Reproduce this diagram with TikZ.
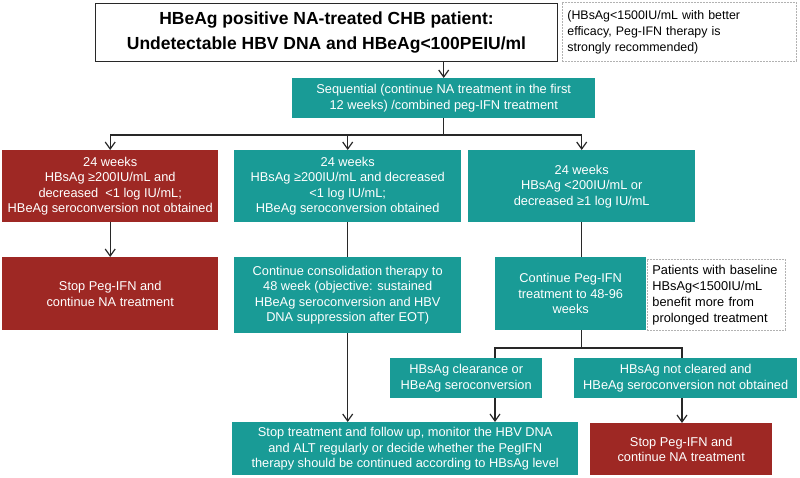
\documentclass[tikz,border=0pt]{standalone}
\usepackage{fontspec}
\setmainfont{Liberation Sans}
\usetikzlibrary{arrows.meta}
\definecolor{tealbg}{RGB}{25,155,150}
\definecolor{redbg}{RGB}{158,40,36}
\definecolor{lncol}{RGB}{40,40,40}
\begin{document}
\begin{tikzpicture}[x=1pt,y=-1pt,
  box/.style={rectangle, inner sep=0pt, align=center, anchor=north west,
    font=\fontsize{12.8}{15.5}\selectfont, text=white},
  tealbox/.style={box, fill=tealbg},
  redbox/.style={box, fill=redbg},
  notebox/.style={rectangle, draw=gray!60, dash pattern=on 2pt off 1pt, line width=0.8pt,
    inner xsep=5pt, inner ysep=0pt, anchor=north west, align=left,
    font=\fontsize{12.8}{16}\selectfont, text=black},
  headbox/.style={rectangle, draw=lncol, line width=1pt, fill=white, inner sep=0pt,
    anchor=north west, align=center, font=\fontsize{17.5}{25}\selectfont\bfseries},
  ln/.style={draw=lncol, line width=1.2pt},
  arr/.style={ln, -{Straight Barb[length=7pt,width=10pt]}}]
\useasboundingbox (0,0) rectangle (800,477);

\node[headbox, minimum width=462pt, minimum height=58pt] (top) at (95,3)
  {HBeAg positive NA-treated CHB patient:\\Undetectable HBV DNA and HBeAg<100PEIU/ml};
\node[notebox, minimum height=59pt, text width=224pt, font=\fontsize{12.4}{16}\selectfont] (note1) at (562,2)
  {(HBsAg<1500IU/mL with better\\efficacy, Peg-IFN therapy is\\strongly recommended)};

\node[tealbox, minimum width=303pt, minimum height=40pt] (seq) at (292,78)
  {Sequential (continue NA treatment in the first\\12 weeks) /combined peg-IFN treatment};

\node[redbox, minimum width=216pt, minimum height=72pt] (A) at (2,150)
  {24 weeks\\HBsAg ≥200IU/mL and\\decreased\ \ <1 log IU/mL;\\HBeAg seroconversion not obtained};
\node[tealbox, minimum width=227pt, minimum height=72pt] (B) at (234,150)
  {24 weeks\\HBsAg ≥200IU/mL and decreased\\<1 log IU/mL;\\HBeAg seroconversion obtained};
\node[tealbox, minimum width=227pt, minimum height=72pt] (C) at (468,150)
  {24 weeks\\HBsAg <200IU/mL or\\decreased ≥1 log IU/mL};

\node[redbox, minimum width=216pt, minimum height=73pt] (D) at (2,257)
  {Stop Peg-IFN and\\continue NA treatment};
\node[tealbox, minimum width=227pt, minimum height=76pt] (E) at (234,257)
  {Continue consolidation therapy to\\48 week (objective: sustained\\HBeAg seroconversion and HBV\\DNA suppression after EOT)};
\node[tealbox, minimum width=151pt, minimum height=73pt] (F) at (495,257)
  {Continue Peg-IFN\\treatment to 48-96\\weeks};
\node[notebox, minimum height=71pt, text width=128pt] (note2) at (647,259)
  {Patients with baseline\\HBsAg<1500IU/mL\\benefit more from\\prolonged treatment};

\node[tealbox, minimum width=152pt, minimum height=40pt] (H) at (390,358)
  {HBsAg clearance or\\HBeAg seroconversion};
\node[tealbox, minimum width=223pt, minimum height=40pt] (I) at (574,358)
  {HBsAg not cleared and\\HBeAg seroconversion not obtained};

\node[tealbox, minimum width=346pt, minimum height=53pt] (J) at (232,422)
  {Stop treatment and follow up, monitor the HBV DNA\\and ALT regularly or decide whether the PegIFN\\therapy should be continued according to HBsAg level};
\node[redbox, minimum width=182pt, minimum height=52pt] (K) at (590,423)
  {Stop Peg-IFN and\\continue NA treatment};

% connectors
\draw[arr] (top.south -| seq.north) -- (seq.north);
\coordinate (j1) at (443,135);
\draw[ln] (seq.south) -- (seq.south |- j1);
\draw[ln] (A.north |- j1) -- (C.north |- j1);
\draw[arr] (A.north |- j1) -- (A.north);
\draw[arr] (B.north |- j1) -- (B.north);
\draw[arr] (C.north |- j1) -- (C.north);

\draw[arr] (A.south) -- (D.north);
\draw[ln] (B.south) -- (B.south |- E.north);
\draw[ln] (C.south) -- (C.south |- F.north);

\coordinate (j2L) at (495,348);
\coordinate (j2R) at (682,348);
\draw[ln] (C.south |- F.south) -- (C.south |- j2L);
\draw[ln] (j2L |- H.north) -- (j2L) -- (j2R) -- (j2R |- I.north);

\draw[arr] (E.south) -- (E.south |- J.north);
\draw[arr] (j2L |- H.south) -- (j2L |- J.north);
\draw[arr] (j2R |- I.south) -- (j2R |- K.north);
\end{tikzpicture}
\end{document}
